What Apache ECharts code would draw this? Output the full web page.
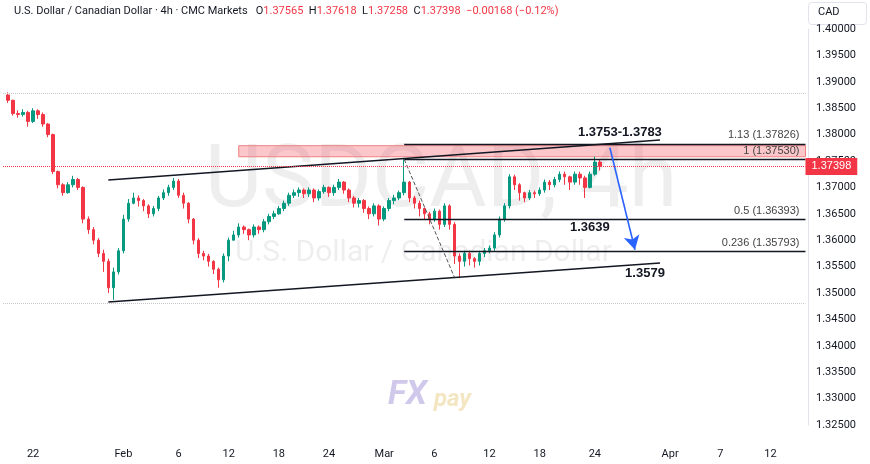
<!DOCTYPE html>
<html><head><meta charset="utf-8">
<script src="https://cdn.jsdelivr.net/npm/echarts@6/dist/echarts.min.js"></script>
<style>html,body{margin:0;padding:0;background:#fff}#c{width:870px;height:464px}</style>
</head><body><div id="c"></div>
<script>
// x slots (4h-ish bars, merged), labels at selected slots
const slotCount = 161;
const tickLabels = {6:'22',24:'Feb',35:'6',45:'12',55:'18',65:'24',76:'Mar',86:'6',97:'12',107:'18',118:'24',133:'Apr',143:'7',153:'12'};
const firstSlot = 1;
const firstOpen = 1.3875;
const closes = [1.3865,1.3840,1.3838,1.3842,1.3825,1.3845,1.3838,1.3820,1.3800,1.3730,
1.3705,1.3690,1.3705,1.3715,1.3700,1.3640,1.3620,1.3600,1.3575,1.3560,
1.3510,1.3540,1.3580,1.3640,1.3670,1.3680,1.3675,1.3665,1.3650,1.3660,
1.3680,1.3690,1.3700,1.3712,1.3685,1.3670,1.3640,1.3600,1.3575,1.3570,
1.3560,1.3545,1.3525,1.3570,1.3600,1.3610,1.3625,1.3620,1.3610,1.3625,
1.3620,1.3635,1.3645,1.3650,1.3660,1.3670,1.3685,1.3690,1.3695,1.3688,
1.3695,1.3680,1.3692,1.3700,1.3690,1.3700,1.3710,1.3695,1.3680,1.3670,
1.3675,1.3660,1.3650,1.3665,1.3640,1.3660,1.3675,1.3680,1.3690,1.3710,
1.3680,1.3670,1.3660,1.3650,1.3640,1.3655,1.3630,1.3665,1.3630,1.3570,
1.3560,1.3575,1.3565,1.3560,1.3575,1.3580,1.3585,1.3610,1.3640,1.3665,
1.3720,1.3705,1.3690,1.3680,1.3690,1.3688,1.3695,1.3710,1.3705,1.3715,
1.3725,1.3720,1.3710,1.3725,1.3718,1.3700,1.3725,1.3748,1.3740];
const lows = [1.3860,1.3836,1.3832,1.3834,1.3815,1.3822,1.3830,1.3815,1.3795,1.3725,
1.3698,1.3684,1.3688,1.3700,1.3695,1.3632,1.3612,1.3592,1.3568,1.3540,
1.3500,1.3487,1.3535,1.3575,1.3635,1.3668,1.3664,1.3655,1.3642,1.3645,
1.3655,1.3676,1.3684,1.3695,1.3680,1.3660,1.3632,1.3592,1.3566,1.3562,
1.3550,1.3536,1.3510,1.3520,1.3560,1.3600,1.3605,1.3612,1.3600,1.3605,
1.3612,1.3615,1.3630,1.3640,1.3648,1.3655,1.3665,1.3680,1.3682,1.3680,
1.3682,1.3672,1.3675,1.3688,1.3682,1.3684,1.3695,1.3688,1.3672,1.3662,
1.3662,1.3652,1.3640,1.3645,1.3628,1.3636,1.3655,1.3668,1.3676,1.3685,
1.3672,1.3660,1.3645,1.3640,1.3630,1.3635,1.3620,1.3625,1.3620,1.3555,
1.3528,1.3550,1.3552,1.3548,1.3552,1.3568,1.3575,1.3580,1.3605,1.3635,
1.3660,1.3695,1.3675,1.3672,1.3676,1.3680,1.3684,1.3690,1.3695,1.3700,
1.3710,1.3705,1.3695,1.3705,1.3705,1.3680,1.3698,1.3722,1.3732];
const highs = [1.3880,1.3866,1.3846,1.3848,1.3845,1.3850,1.3848,1.3842,1.3822,1.3802,
1.3732,1.3708,1.3710,1.3722,1.3718,1.3702,1.3645,1.3625,1.3604,1.3582,
1.3565,1.3548,1.3585,1.3648,1.3678,1.3690,1.3685,1.3678,1.3668,1.3665,
1.3684,1.3696,1.3705,1.3718,1.3716,1.3690,1.3672,1.3642,1.3604,1.3580,
1.3574,1.3562,1.3548,1.3575,1.3605,1.3618,1.3632,1.3628,1.3622,1.3630,
1.3628,1.3640,1.3650,1.3656,1.3665,1.3675,1.3690,1.3696,1.3700,1.3698,
1.3700,1.3698,1.3696,1.3705,1.3702,1.3705,1.3716,1.3712,1.3698,1.3684,
1.3680,1.3678,1.3664,1.3670,1.3668,1.3664,1.3680,1.3686,1.3694,1.3755,
1.3712,1.3684,1.3675,1.3662,1.3654,1.3660,1.3658,1.3670,1.3668,1.3634,
1.3575,1.3580,1.3580,1.3568,1.3580,1.3585,1.3590,1.3615,1.3645,1.3670,
1.3725,1.3724,1.3708,1.3692,1.3695,1.3694,1.3700,1.3715,1.3714,1.3720,
1.3730,1.3730,1.3722,1.3730,1.3730,1.3722,1.3730,1.3758,1.3752];
const yTicks = {min:1.325, max:1.400, step:0.005};
const lastPrice = 1.37398;
const fibLevels = [['1.13',1.37826],['1',1.37530],['0.5',1.36393],['0.236',1.35793]];
const zone = [1.3758, 1.3779];
const upperChannel = [[21,1.3714],[131,1.3790]];
const lowerChannel = [[21,1.34828],[131,1.35568]];
const dashedSwing = [[80,1.3753],[90,1.3530]];
const arrowPath = [[121,1.3775],[126,1.3582]];
const priceNotes = [['1.3753-1.3783',123,1.3805],['1.3639',117,1.3625],['1.3579',128,1.3538]];
const refLines = [1.38788, 1.34811];

const cats = []; for (let i=0;i<slotCount;i++) cats.push(tickLabels[i]||'');
const ohlc = []; for (let i=0;i<firstSlot;i++) ohlc.push('-');
closes.forEach((c,k)=>{ const o = k===0?firstOpen:closes[k-1]; ohlc.push([o,c,lows[k],highs[k]]); });

const RED='#f23645', GREEN='#089981';
const lineStyle = {color:'#131722',width:1.5,type:'solid'};
const ml = [];
ml.push([{coord:upperChannel[0],lineStyle},{coord:upperChannel[1]}]);
ml.push([{coord:lowerChannel[0],lineStyle},{coord:lowerChannel[1]}]);
fibLevels.forEach(([n,v])=>ml.push([{coord:[80,v],lineStyle:{color:'#131722',width:1.3,type:'solid'},
  label:{show:true,position:'insideEndTop',formatter:n+' ('+v.toFixed(5)+')',color:'#444',fontSize:11,distance:[6,3]}},{coord:[slotCount-1,v]}]));
ml.push([{coord:dashedSwing[0],lineStyle:{color:'#555',width:1,type:'dashed'}},{coord:dashedSwing[1]}]);
ml.push([{coord:arrowPath[0],symbol:'none',lineStyle:{color:'#2962ff',width:1.6,type:'solid'}},{coord:arrowPath[1],symbol:'arrow',symbolSize:[12,14]}]);
refLines.forEach(v=>ml.push([{coord:[0,v],lineStyle:{color:'#c8c8c8',width:1,type:'dotted'}},{coord:[slotCount-1,v]}]));
ml.push([{coord:[0,lastPrice],lineStyle:{color:RED,width:1,type:'dotted'},
  label:{show:true,position:'end',formatter:lastPrice.toFixed(5),backgroundColor:RED,color:'#fff',fontSize:11,padding:[3,6],distance:0}},{coord:[slotCount-1,lastPrice]}]);

const chart = echarts.init(document.getElementById('c'));
chart.setOption({
  animation:false,
  grid:{left:0,right:62,top:29,bottom:39},
  xAxis:{type:'category',data:cats,boundaryGap:true,
    axisLine:{show:false},axisTick:{show:false},
    axisLabel:{interval:0,color:'#131722',fontSize:11,margin:24,fontFamily:'Roboto'},splitLine:{show:false}},
  yAxis:{type:'value',position:'right',min:yTicks.min,max:yTicks.max,interval:yTicks.step,scale:true,
    axisLine:{show:true,lineStyle:{color:'#e0e3eb'}},axisTick:{show:false},splitLine:{show:false},
    axisLabel:{color:'#131722',fontSize:11,margin:8,fontFamily:'Roboto',formatter:v=>v.toFixed(5),showMinLabel:true}},
  graphic:[
    {type:'text',left:205,top:140,style:{text:'USDCAD, 4h',font:'88px Roboto',fill:'rgba(120,123,134,0.13)'}},
    {type:'text',left:235,top:238,style:{text:'U.S. Dollar / Canadian Dollar',font:'30px Roboto',fill:'rgba(120,123,134,0.13)'}},
    {type:'text',left:388,top:378,style:{text:'FX',font:'italic bold 34px Roboto',fill:'rgba(120,100,200,0.35)'}},
    {type:'text',left:434,top:388,style:{text:'pay',font:'italic bold 24px Roboto',fill:'rgba(230,200,120,0.45)'}},
    {type:'text',left:14,top:6,style:{rich:{a:{fill:'#131722',fontSize:11,fontFamily:'Roboto'},r:{fill:RED,fontSize:11,fontFamily:'Roboto'}},
      text:'{a|U.S. Dollar / Canadian Dollar · 4h · CMC Markets   O}{r|1.37565}{a|  H}{r|1.37618}{a|  L}{r|1.37258}{a|  C}{r|1.37398}{r|  −0.00168 (−0.12%)}'}},
    {type:'rect',left:808,top:2,shape:{width:58,height:22,r:3},style:{fill:'#fff',stroke:'#e0e3eb'}},
    {type:'text',left:818,top:7,style:{text:'CAD',font:'11px Roboto',fill:'#131722'}}
  ],
  series:[{type:'candlestick',data:ohlc,barWidth:'60%',
    itemStyle:{color:GREEN,color0:RED,borderColor:GREEN,borderColor0:RED,borderWidth:1},
    markArea:{silent:true,itemStyle:{color:'rgba(242,54,69,0.28)',borderColor:'#f08080',borderWidth:1},
      data:[[{coord:[47,zone[0]]},{coord:[slotCount-1,zone[1]]}]]},
    markLine:{silent:true,symbol:'none',label:{show:false},data:ml},
    markPoint:{silent:true,symbol:'rect',symbolSize:0,
      data:priceNotes.map(([t,x,y])=>({coord:[x,y],label:{show:true,formatter:t,color:'#131722',fontSize:13,fontWeight:'bold'}}))}
  }]
});
</script></body></html>
